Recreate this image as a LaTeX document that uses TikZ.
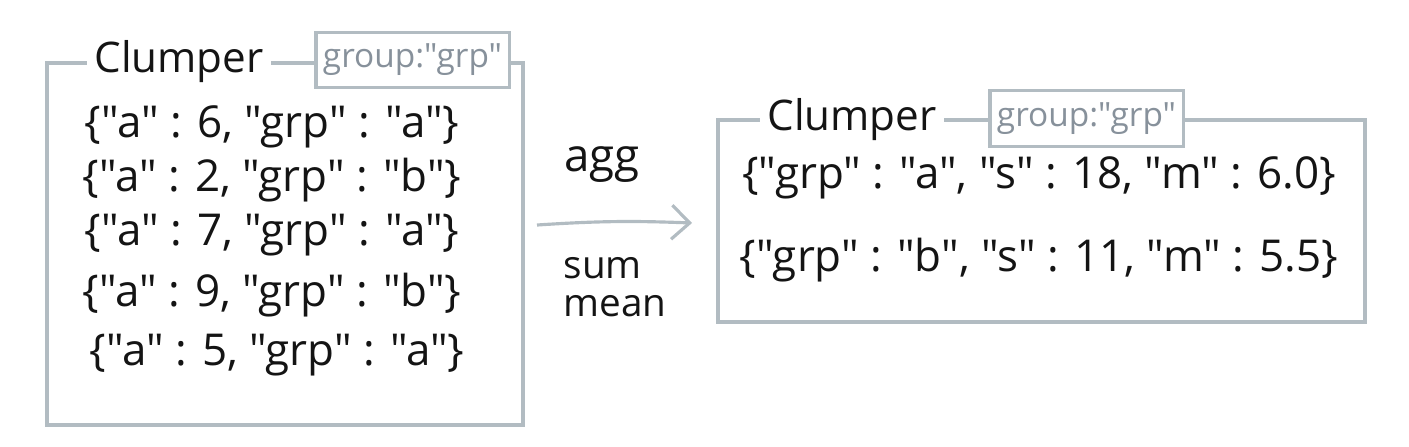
\documentclass[tikz,border=0pt]{standalone}
\usepackage{fontspec}
\setmainfont{Open Sans}[Ligatures=TeXOff]
\usetikzlibrary{positioning, calc, arrows.meta}
\definecolor{frameline}{RGB}{178,188,194}
\definecolor{taggray}{RGB}{135,145,155}
\definecolor{inkblack}{RGB}{20,20,20}

\begin{document}
\begin{tikzpicture}[
  frame/.style={draw=frameline, line width=0.9pt, inner sep=0pt},
  title/.style={fill=white, inner xsep=2pt, inner ysep=1pt, text=inkblack, font=\fontsize{12}{14}\selectfont},
  tag/.style={draw=frameline, line width=0.9pt, fill=white, inner xsep=2pt, minimum width=1.91cm, minimum height=0.54cm, text=taggray, font=\fontsize{9.5}{11}\selectfont},
  row/.style={text=inkblack, font=\fontsize{12.5}{15}\selectfont},
  word/.style={text=inkblack, font=\fontsize{11}{13}\selectfont},
  flow/.style={frameline, line width=0.9pt, -{Straight Barb[length=1.8mm,width=3.4mm]}}
]
  \useasboundingbox (0,0) rectangle (14.09,4.46);

  % input clumper
  \node[frame, minimum width=4.76cm, minimum height=3.62cm] (lbox) at (2.85,2.02) {};
  \node[title] (ltitle) at (1.79,3.84) {Clumper};
  \node[tag] (ltag) at (4.125,3.86) {group:"grp"};
  \node[row] (l1) at (2.72,3.19) {\{"a" : 6, "grp" : "a"\}};
  \node[row] (l2) at (2.72,2.66) {\{"a" : 2, "grp" : "b"\}};
  \node[row] (l3) at (2.72,2.11) {\{"a" : 7, "grp" : "a"\}};
  \node[row] (l4) at (2.72,1.51) {\{"a" : 9, "grp" : "b"\}};
  \node[row] (l5) at (2.77,0.91) {\{"a" : 5, "grp" : "a"\}};

  % output clumper
  \node[frame, minimum width=6.47cm, minimum height=2.02cm] (rbox) at (10.415,2.25) {};
  \node[title] (rtitle) at (8.52,3.26) {Clumper};
  \node[tag] (rtag) at (10.865,3.275) {group:"grp"};
  \node[row] (o1) at (10.39,2.68) {\{"grp" : "a", "s" : 18, "m" : 6.0\}};
  \node[row] (o2) at (10.39,1.86) {\{"grp" : "b", "s" : 11, "m" : 5.5\}};

  % aggregation step
  \coordinate (from) at (5.37,2.21);
  \coordinate (to) at (6.92,2.23);
  \draw[flow] (from) to[bend left=3] (to);
  \node[word, font=\fontsize{13}{15}\selectfont] (agg) at (6.02,2.81) {agg};
  \node[word, align=left, anchor=west, inner sep=0pt] (fns) at (5.63,1.59) {sum\\[-2pt]mean};
\end{tikzpicture}
\end{document}
